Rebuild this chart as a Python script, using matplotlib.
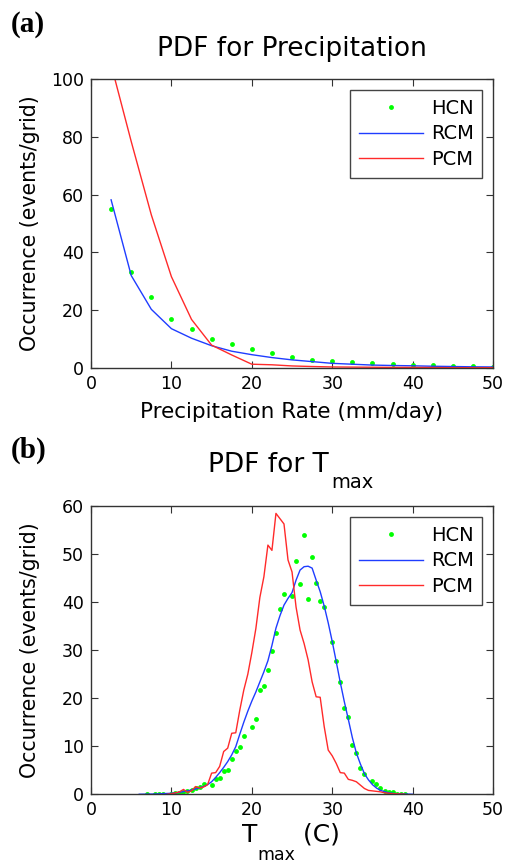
import matplotlib.pyplot as plt

# ===== settings =====
FONT_TICK = 12.5
FONT_LABEL = 15.5
FONT_YLABEL = 14.8
FONT_TITLE = 19
FONT_LEGEND = 14
FONT_PANEL = 21

COLOR_HCN = '#00ff00'
COLOR_RCM = '#1f3dff'
COLOR_PCM = '#ff2a2a'
SPINE_COLOR = '#333333'

FIG_W, FIG_H = 507, 865  # pixels

plt.rcParams['font.family'] = 'DejaVu Sans'

# ===== data: (a) precipitation =====
precip_rate = [2.5, 5, 7.5, 10, 12.5, 15, 17.5, 20, 22.5, 25,
               27.5, 30, 32.5, 35, 37.5, 40, 42.5, 45, 47.5, 50]
hcn_precip = [54.9, 33.2, 24.7, 17.1, 13.4, 10.1, 8.3, 6.5, 5.3, 3.8,
              2.8, 2.3, 1.9, 1.6, 1.4, 1.0, 1.0, 0.6, 0.6, 0.35]
rcm_precip = [58.2, 32.0, 20.3, 13.6, 10.3, 7.7, 5.8, 4.6, 3.6, 2.8,
              2.2, 1.6, 1.3, 1.0, 0.85, 0.75, 0.6, 0.5, 0.4, 0.35]
pcm_precip = [105.0, 78.4, 53.0, 31.6, 16.8, 7.9, 4.5, 1.3, 1.1, 0.7,
              0.5, 0.35, 0.3, 0.25, 0.2, 0.2, 0.15, 0.1, 0.1, 0.1]

# ===== data: (b) Tmax =====
hcn_t = [7.0, 8.0, 8.5, 9.0, 10.0, 10.5, 11.0, 11.5, 12.0, 12.5, 13.0, 13.5, 14.0,
         15.0, 15.5, 16.0, 16.5, 17.0, 17.5, 18.0, 18.5, 19.0,
         20.0, 20.5, 21.0, 21.5, 22.0, 22.5, 23.0, 23.5, 24.0,
         25.0, 25.5, 26.0, 26.5, 27.0, 27.5, 28.0, 28.5, 29.0,
         30.0, 30.5, 31.0, 31.5, 32.0, 32.5, 33.0, 33.5, 34.0,
         35.0, 35.5, 36.0, 36.5, 37.0, 37.5, 38.0, 38.5, 39.0]
hcn_tmax = [0.0, 0.0, 0.0, 0.0, 0.1, 0.2, 0.3, 0.5, 0.7, 0.9, 1.2, 1.6, 2.1,
            2.0, 3.2, 3.3, 4.8, 5.1, 7.4, 9.0, 9.9, 12.1,
            14.0, 15.7, 21.8, 22.5, 25.8, 29.8, 33.6, 38.6, 41.8,
            41.3, 48.6, 43.7, 54.0, 40.6, 49.5, 43.9, 40.3, 39.0,
            31.8, 27.7, 23.3, 18.0, 16.1, 10.3, 8.5, 5.5, 4.2,
            2.7, 2.2, 1.3, 0.6, 0.5, 0.4, 0.1, 0.0, 0.0]

rcm_t = [6, 8, 10, 11, 12, 13, 14, 14.5, 15, 15.5, 16, 16.5, 17, 17.5, 18, 18.5,
         19, 19.5, 20, 20.5, 21, 21.5, 22, 22.5, 23, 23.5, 24, 24.5, 25, 25.5,
         26, 26.5, 27, 27.5, 28, 28.5, 29, 29.5, 30, 30.5, 31, 31.5, 32, 32.5,
         33, 33.5, 34, 34.5, 35, 35.5, 36, 37, 38, 39, 40]
rcm_tmax = [0.0, 0.05, 0.2, 0.4, 0.7, 1.1, 1.6, 2.0, 2.6, 3.5, 4.5, 5.6, 6.8, 8.2, 9.9, 12.5,
            15.0, 17.3, 19.4, 21.3, 23.4, 25.5, 27.8, 31.0, 34.6, 37.2, 39.4, 40.8, 42.0, 44.6,
            46.7, 47.4, 47.5, 47.1, 44.6, 42.2, 39.2, 35.7, 31.8, 27.6, 23.3, 19.3, 15.6, 11.8,
            8.6, 6.3, 4.3, 3.0, 2.0, 1.3, 0.8, 0.3, 0.1, 0.05, 0.0]

pcm_t = [9.5, 10.0, 10.5, 11.0, 11.5, 12.0, 12.5, 13.0, 13.5, 14.0, 14.5,
         15.0, 15.5, 16.0, 16.5, 17.0, 17.5, 18.0, 18.5, 19.0, 19.5,
         20.0, 20.5, 21.0, 21.5, 22.0, 22.5, 23.0, 23.5, 24.0, 24.5,
         25.0, 25.5, 26.0, 26.5, 27.0, 27.5, 28.0, 28.5, 29.0, 29.5,
         30.0, 30.5, 31.0, 31.5, 32.0, 32.5, 33.0, 33.5, 34.0, 34.5,
         35.0, 35.5, 36.0, 36.5, 37.0, 37.5, 38.0, 38.5, 39.0]
pcm_tmax = [0.0, 0.1, 0.3, 0.5, 1.0, 0.4, 0.7, 1.6, 1.3, 1.5, 2.0,
            4.4, 4.5, 5.8, 8.9, 9.6, 12.7, 12.8, 17.5, 21.7, 25.0,
            29.5, 34.5, 41.0, 45.3, 51.9, 50.8, 58.5, 57.4, 56.3, 48.8,
            46.3, 39.0, 34.2, 31.4, 28.0, 23.4, 20.3, 20.2, 14.1, 9.2,
            8.0, 6.4, 4.5, 4.4, 3.1, 2.9, 2.6, 1.9, 1.2, 0.8,
            0.7, 0.6, 0.5, 0.3, 0.2, 0.1, 0.1, 0.05, 0.0]

labels = ['HCN', 'RCM', 'PCM']


def style_axes(ax):
    """MATLAB-like box axes"""
    for s in ax.spines.values():
        s.set_color(SPINE_COLOR)
        s.set_linewidth(1.0)
    ax.tick_params(direction='in', top=True, right=True, length=5,
                   width=0.8, color=SPINE_COLOR, labelsize=FONT_TICK, pad=5)


def draw_series(ax, x_hcn, y_hcn, x_rcm, y_rcm, x_pcm, y_pcm):
    ax.plot(x_hcn, y_hcn, 'o', color=COLOR_HCN, markersize=3.5,
            markeredgewidth=0, label=labels[0])
    ax.plot(x_rcm, y_rcm, '-', color=COLOR_RCM, linewidth=1.0, label=labels[1])
    ax.plot(x_pcm, y_pcm, '-', color=COLOR_PCM, linewidth=1.0, label=labels[2])
    leg = ax.legend(loc='upper right', fontsize=FONT_LEGEND, numpoints=1,
                    fancybox=False, framealpha=1, edgecolor='#444444',
                    handlelength=3.3, handletextpad=0.4, borderpad=0.45,
                    labelspacing=0.35, borderaxespad=0.55)
    leg.get_frame().set_linewidth(1.0)


def pieces_text(fig, x_center, baseline, pieces):
    """MATLAB-style subscripts: pieces = [(text, fontsize, drop_px), ...]"""
    renderer = fig.canvas.get_renderer()
    objs = []
    widths = []
    for txt, size, drop in pieces:
        t = fig.text(0, 0, txt, fontsize=size, va='baseline', ha='left')
        objs.append((t, drop))
        widths.append(t.get_window_extent(renderer).width)
    x = x_center - sum(widths) / 2
    for (t, drop), w in zip(objs, widths):
        t.set_position((x / FIG_W, 1 - (baseline + drop) / FIG_H))
        x += w


fig = plt.figure(figsize=(FIG_W / 100, FIG_H / 100), dpi=100)
ax1 = fig.add_axes([0.1795, 0.5746, 0.793, 0.334])
ax2 = fig.add_axes([0.1795, 0.0818, 0.793, 0.333])

# (a) precipitation
draw_series(ax1, precip_rate, hcn_precip, precip_rate, rcm_precip,
            precip_rate, pcm_precip)
ax1.set_xlim(0, 50)
ax1.set_ylim(0, 100)
ax1.set_xticks([0, 10, 20, 30, 40, 50])
ax1.set_yticks([0, 20, 40, 60, 80, 100])
style_axes(ax1)
ax1.set_title('PDF for Precipitation', fontsize=FONT_TITLE, pad=16.5)
ax1.set_xlabel('Precipitation Rate (mm/day)', fontsize=FONT_LABEL)
ax1.set_ylabel('Occurrence (events/grid)', fontsize=FONT_YLABEL)
ax1.xaxis.set_label_coords(0.5, -0.118)
ax1.yaxis.set_label_coords(-0.127, 0.5)

# (b) Tmax
draw_series(ax2, hcn_t, hcn_tmax, rcm_t, rcm_tmax, pcm_t, pcm_tmax)
ax2.set_xlim(0, 50)
ax2.set_ylim(0, 60)
ax2.set_xticks([0, 10, 20, 30, 40, 50])
ax2.set_yticks([0, 10, 20, 30, 40, 50, 60])
style_axes(ax2)
ax2.set_ylabel('Occurrence (events/grid)', fontsize=FONT_YLABEL)
ax2.yaxis.set_label_coords(-0.127, 0.5)

# title and x label of (b) with large, low subscripts
pieces_text(fig, 291, 472, [('PDF for T', FONT_TITLE, 0),
                            (' ', 6, 0),
                            ('max', 14, 15.5)])
pieces_text(fig, 291, 841.5, [('T', 18, 0),
                              ('max', 12.5, 18),
                              (' (C)', 18, 0)])

# panel letters
fig.text(11 / FIG_W, 1 - 11 / FIG_H, '(a)', fontsize=FONT_PANEL, fontweight='bold',
         family='Liberation Serif', va='top', ha='left')
fig.text(11 / FIG_W, 1 - 437 / FIG_H, '(b)', fontsize=FONT_PANEL, fontweight='bold',
         family='Liberation Serif', va='top', ha='left')

fig.savefig('out.png', dpi=100)
